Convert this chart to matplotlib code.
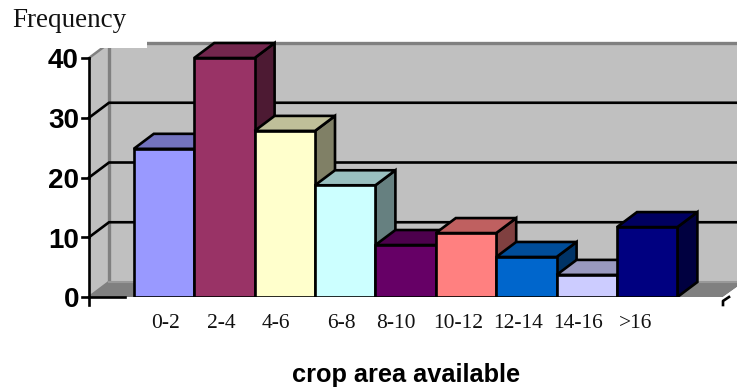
import matplotlib
matplotlib.use("Agg")
from matplotlib import pyplot as plt
import numpy as np

# bins and counts
categories = ["0-2", "2-4", "4-6", "6-8", "8-10", "10-12", "12-14", "14-16", ">16"]
values = [24.8, 40, 27.8, 18.7, 8.7, 10.7, 6.7, 3.7, 11.7]
y_ticks = [0, 10, 20, 30, 40]
bar_colors = ["#9999FF", "#993366", "#FFFFCC", "#CCFFFF", "#660066",
              "#FF8080", "#0066CC", "#CCCCFF", "#000080"]
label_centres = [166, 221, 275.5, 341, 396, 458, 518, 578, 636]

W, H = 737, 392
Y0 = 297          # pixel row of value 0
PER_UNIT = 5.975  # pixels per count
X0 = 164          # pixel column of the first bar centre
PER_BAR = 60.4
DX, DY = 20 / PER_BAR, 15 / PER_UNIT  # 3d depth in data units
LW = 1.9


def xd(px):
    return (px - X0) / PER_BAR


def yd(py):
    return (Y0 - py) / PER_UNIT


def shade(color, k):
    rgb = np.array(matplotlib.colors.to_rgb(color))
    return tuple(rgb * k)


fig = plt.figure(figsize=(W / 100, H / 100), dpi=100)
ax = fig.add_axes([0, 0, 1, 1])
ax.set_xlim(xd(0), xd(W))
ax.set_ylim(yd(H), yd(0))
ax.axis("off")

left = xd(89)
top = y_ticks[-1]

# walls and floor
ax.fill([left + DX, xd(W), xd(W), left + DX], [DY, DY, top + DY, top + DY],
        color="#C0C0C0", lw=0, zorder=1)
ax.fill([left, left + DX, left + DX, left], [0, DY, top + DY, top],
        color="#C0C0C0", lw=0, zorder=1)
ax.fill([left, left + DX, xd(W), xd(W), xd(723)], [0, DY, DY, yd(287), 0],
        color="#808080", lw=0, zorder=1)

# white corner on the right of the floor
ax.fill([xd(723), xd(W), xd(W)], [0, yd(287), 0], color="white", lw=0, zorder=2)

# wall edges
ax.plot([left + DX, xd(W)], [top + DY, top + DY], color="#808080", lw=2.4, zorder=2)
ax.plot([left + DX, left + DX], [DY, top + DY], color="#808080", lw=2.4, zorder=2)
ax.plot([left, left + DX], [top, top + DY], color="#808080", lw=1.8, zorder=2)
ax.plot([left, left + DX], [0, DY], color="#808080", lw=1.8, zorder=2)
ax.plot([left + DX, xd(W)], [DY, DY], color="#999999", lw=1.5, zorder=2)

# gridlines
for v in y_ticks[1:-1]:
    ax.plot([left, left + DX, xd(W)], [v, v + DY, v + DY], color="black", lw=LW, zorder=3)

# bars, front face plus top and side
width = 1.0
for i, (v, c) in enumerate(zip(values, bar_colors)):
    l = i - width / 2
    r = i + width / 2
    z = 4 + i * 0.1
    ax.fill([r, r + DX, r + DX, r], [0, DY, v + DY, v], facecolor=shade(c, 0.5),
            edgecolor="black", lw=LW, zorder=z, joinstyle="miter")
    ax.fill([l, l + DX, r + DX, r], [v, v + DY, v + DY, v], facecolor=shade(c, 0.75),
            edgecolor="black", lw=LW, zorder=z, joinstyle="miter")
    ax.bar(i, v, width=width, color=c, edgecolor="black", lw=LW, zorder=z)

# white under the plot hides the foot of the bars
ax.fill([xd(125), xd(723), xd(723), xd(125)], [yd(296.5), yd(296.5), yd(H), yd(H)],
        color="white", lw=0, zorder=6)

# white box behind the y title
ax.fill([xd(0), xd(147), xd(147), xd(0)], [yd(0), yd(0), yd(48), yd(48)],
        color="white", lw=0, zorder=6)

# value axis
ax.plot([left, left], [top, yd(305)], color="black", lw=LW, zorder=7)
ax.plot([left, xd(125)], [0, 0], color="black", lw=LW, zorder=7)
for v in y_ticks:
    ax.plot([xd(82), left], [v, v], color="black", lw=LW, zorder=7)
    ax.text(xd(79), v - 0.55, str(v), ha="right", va="center", family="Liberation Sans",
            fontweight="bold", fontsize=20, zorder=8)
ax.plot([xd(723), xd(723), xd(729)], [yd(305), yd(301), yd(297)], color="black", lw=LW, zorder=7)

# category labels
for name, cx in zip(categories, label_centres):
    ax.text(xd(cx), yd(327.5), name, ha="center", va="baseline", family="Liberation Serif",
            fontsize=15.5, color="#111111", zorder=8)

ax.text(xd(12), yd(27), "Frequency", ha="left", va="baseline", family="Liberation Serif",
        fontsize=19.5, color="#111111", zorder=8)
ax.text(xd(406), yd(375), "crop area available", ha="center", va="center",
        family="Liberation Sans", fontweight="bold", fontsize=18.3, zorder=8)

fig.savefig("out.png", dpi=100)
